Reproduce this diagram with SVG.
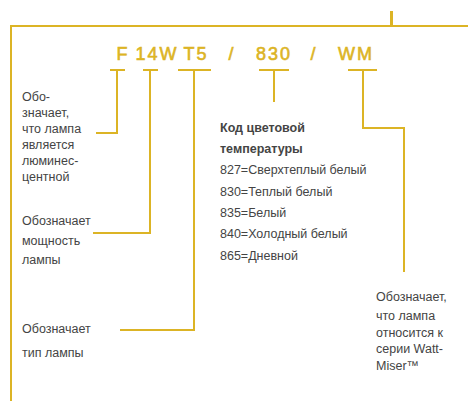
<svg xmlns="http://www.w3.org/2000/svg" width="468" height="401" viewBox="0 0 468 401">
<style>
.ln{fill:none;stroke:#dcb425;stroke-width:2}
.code{font-family:"Liberation Sans",Arial,sans-serif;font-size:18px;fill:#dcb425;stroke:#dcb425;stroke-width:0.6;text-anchor:middle;letter-spacing:2px}
.t{font-family:"Liberation Sans",Arial,sans-serif;font-size:12.5px;fill:#444}
.b{font-weight:bold}
</style>
<rect width="468" height="401" fill="#fff"/>
<g id="frame">
<path class="ln" d="M11,401 V26 H468"/>
<rect x="390" y="11" width="3" height="15" fill="#dcb425"/>
</g>
<g id="code">
<text class="code" x="123" y="60">F</text>
<text class="code" x="157" y="60">14W</text>
<text class="code" x="196" y="60">T5</text>
<text class="code" x="232" y="60">/</text>
<text class="code" x="274" y="60">830</text>
<text class="code" x="314" y="60">/</text>
<text class="code" x="356" y="60">WM</text>
</g>
<g id="connectors">
<path class="ln" d="M110,70 H125 M117,70 V133 H96"/>
<path class="ln" d="M143,70 H158 M150,70 V233 H93"/>
<path class="ln" d="M178,70 H211 M194,70 V330 H120"/>
<path class="ln" d="M259,70 H289 M274,70 V102"/>
<path class="ln" d="M348,70 H377 M363,70 V128 H404 V272"/>
</g>
<g id="n-fluor">
<text class="t" x="22" y="101">Обо-</text>
<text class="t" x="22" y="117">значает,</text>
<text class="t" x="22" y="133">что лампа</text>
<text class="t" x="22" y="149">является</text>
<text class="t" x="22" y="165">люминес-</text>
<text class="t" x="22" y="181">центной</text>
</g>
<g id="n-power">
<text class="t" x="22" y="225">Обозначает</text>
<text class="t" x="22" y="245">мощность</text>
<text class="t" x="22" y="264">лампы</text>
</g>
<g id="n-type">
<text class="t" x="22" y="333">Обозначает</text>
<text class="t" x="22" y="357">тип лампы</text>
</g>
<g id="n-color">
<text class="t b" x="220" y="132">Код цветовой</text>
<text class="t b" x="220" y="153">температуры</text>
<text class="t" x="220" y="174">827=Сверхтеплый белый</text>
<text class="t" x="220" y="196">830=Теплый белый</text>
<text class="t" x="220" y="217">835=Белый</text>
<text class="t" x="220" y="238">840=Холодный белый</text>
<text class="t" x="220" y="260">865=Дневной</text>
</g>
<g id="n-wm">
<text class="t" x="376" y="301">Обозначает,</text>
<text class="t" x="376" y="320">что лампа</text>
<text class="t" x="376" y="337">относится к</text>
<text class="t" x="376" y="353">серии Watt-</text>
<text class="t" x="376" y="370">Miser™</text>
</g>
</svg>
